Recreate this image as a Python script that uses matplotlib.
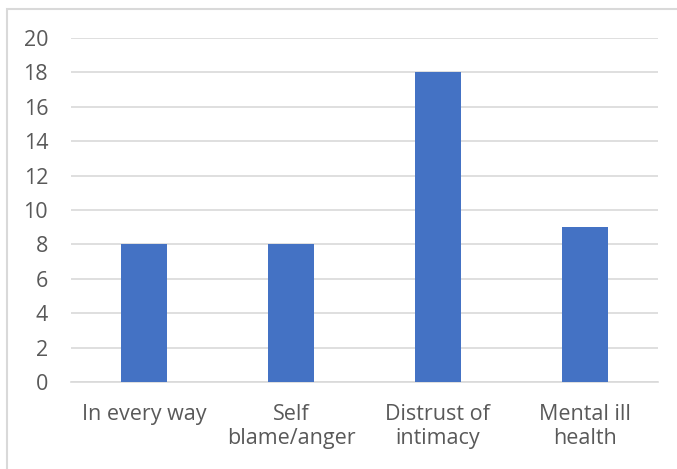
import matplotlib
matplotlib.use("Agg")
import matplotlib.pyplot as plt
from matplotlib.patches import Rectangle

categories = ["In every way", "Self\nblame/anger", "Distrust of\nintimacy", "Mental ill\nhealth"]
values = [8, 8, 18, 9]
yticks = [0, 2, 4, 6, 8, 10, 12, 14, 16, 18, 20]

plt.rcParams['font.family'] = ['Open Sans', 'DejaVu Sans']

W, H = 677, 469
fig = plt.figure(figsize=(W / 100, H / 100), dpi=100)
ax = fig.add_axes([71 / W, (H - 382) / H, 587 / W, 344 / H])

x = range(len(categories))
ax.bar(x, values, width=0.313, color="#4472C4", zorder=3)
ax.set_xlim(-0.5, len(categories) - 0.5)
ax.set_ylim(0, 20)
ax.set_yticks(yticks)
ax.set_xticks(list(x))
ax.set_xticklabels(categories, linespacing=1.15)
ax.grid(axis="y", color="#D9D9D9", linewidth=1.2, zorder=0)
for s in ["top", "right", "left"]:
    ax.spines[s].set_visible(False)
ax.spines["bottom"].set_color("#D9D9D9")
ax.spines["bottom"].set_linewidth(1.2)
ax.tick_params(axis="both", length=0, colors="#595959", labelsize=15.5)
ax.tick_params(axis="x", pad=16)
ax.tick_params(axis="y", pad=16.5)

# chart-area border (extends past right and bottom edges)
fig.patches.append(Rectangle((7 / W, -0.05), 1.2, (H - 9) / H + 0.05,
                             transform=fig.transFigure, fill=False,
                             edgecolor="#D9D9D9", linewidth=1.5))

fig.savefig("out.png", dpi=100)
